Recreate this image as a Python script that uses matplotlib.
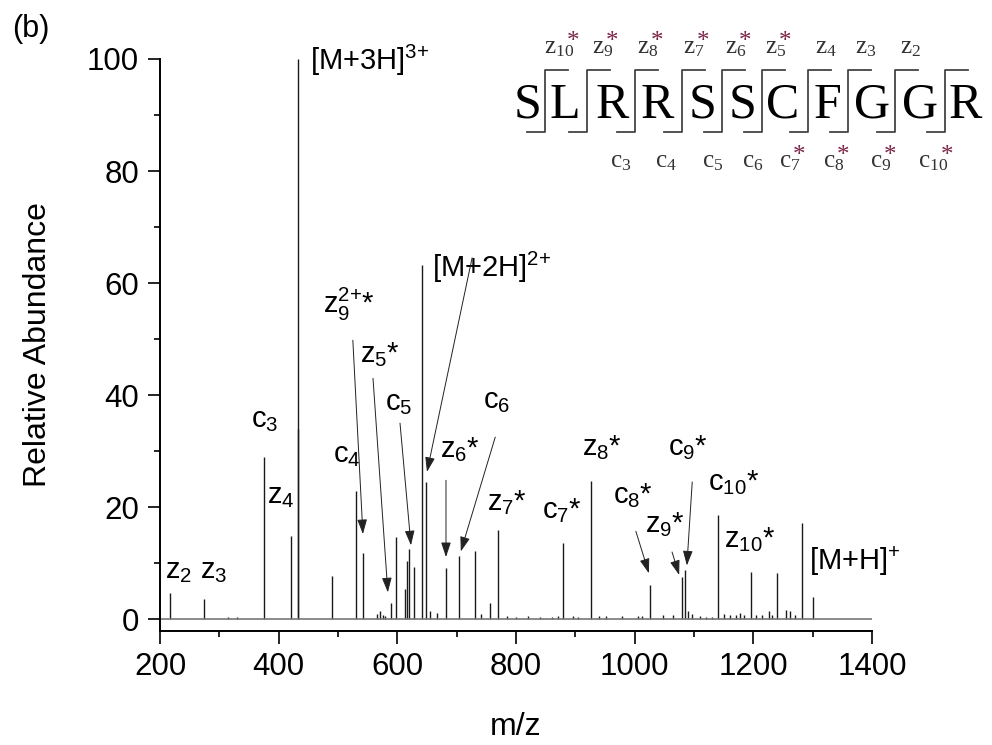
import matplotlib
matplotlib.use('Agg')
import matplotlib.pyplot as plt
from matplotlib.lines import Line2D

plt.rcParams['font.family'] = ['Liberation Sans', 'DejaVu Sans']
plt.rcParams['mathtext.default'] = 'regular'

# peak list (m/z, relative abundance)
peak_mz = [217, 274, 315, 330, 375, 421, 432.1, 432.4, 490, 530, 542,
           565, 570, 575, 580, 589, 598, 613, 616, 619, 628, 641.6, 648,
           655, 667, 682, 704, 731, 741, 756, 770, 785, 800, 820, 840, 860,
           870, 879, 896, 905, 926, 940, 952, 978, 1005, 1012, 1026, 1048,
           1064, 1080, 1085, 1090, 1097, 1110, 1120, 1130, 1141, 1150, 1160,
           1170, 1178, 1185, 1196, 1205, 1215, 1226, 1232, 1240, 1255, 1262,
           1270, 1282, 1300]
peak_int = [4.6, 3.6, 0.4, 0.4, 28.9, 14.8, 100, 34, 7.8, 22.9, 11.9,
            1.0, 1.5, 0.8, 0.6, 2.9, 14.7, 5.4, 10.4, 12.5, 9.3, 63.2, 24.5,
            1.5, 1.2, 9.1, 11.2, 12.1, 1.0, 2.9, 15.9, 0.5, 0.4, 0.5, 0.4, 0.4,
            0.5, 13.6, 0.5, 0.4, 24.6, 0.5, 0.5, 0.6, 0.5, 0.6, 6.2, 0.8,
            0.8, 7.5, 8.8, 1.5, 1.0, 0.5, 0.4, 0.4, 18.6, 1.0, 0.8,
            0.7, 1.2, 0.8, 8.4, 0.8, 0.8, 1.5, 0.8, 8.2, 1.6, 1.5,
            0.8, 17.1, 3.9]

# peak labels: (text, x, y) and arrows (start, tip)
labels = [
    ('$z_2$', 208, 7.3), ('$z_3$', 267, 7.3), ('$c_3$', 353, 34.3),
    ('$z_4$', 380, 20.7), ('[M+3H]$^{3{+}}$', 453, 98.0),
    ('$z_9^{2{+}}$*', 475, 54.6), ('$z_5$*', 537, 45.9), ('$c_4$', 492, 28.0),
    ('$c_5$', 579, 37.3), ('[M+2H]$^{2{+}}$', 658, 61.1), ('$z_6$*', 672, 28.9),
    ('$c_6$', 744, 37.7), ('$z_7$*', 751, 19.5), ('$c_7$*', 844, 18.0),
    ('$z_8$*', 911, 29.3), ('$c_8$*', 963, 20.7), ('$z_9$*', 1017, 15.5),
    ('$c_9$*', 1056, 29.3), ('$c_{10}$*', 1124, 23.0), ('$z_{10}$*', 1151, 12.9),
    ('[M+H]$^{+}$', 1294, 8.75),
]
arrows = [
    ((525, 49.8), (542, 15.2)), ((559, 43.0), (584, 4.8)),
    ((604.5, 35.0), (623, 13.2)), ((726, 64.5), (650, 26.3)),
    ((682, 24.8), (682, 11.1)), ((765, 32.5), (707, 12.1)),
    ((1002, 15.7), (1024, 8.2)), ((1063, 12.0), (1075, 7.9)),
    ((1097, 24.5), (1088, 9.6)),
]

sequence = 'SLRRSSCFGGR'
z_ions = ['10', '9', '8', '7', '6', '5', '4', '3', '2', None]
z_star = [True, True, True, True, True, True, False, False, False, False]
c_ions = [None, None, '3', '4', '5', '6', '7', '8', '9', '10']
c_star = [False, False, False, False, False, False, True, True, True, True]

W, H = 992, 745
fig = plt.figure(figsize=(W / 100, H / 100), dpi=100)
ax = fig.add_axes([160 / W, 1 - 631 / H, 712 / W, 572 / H])

ax.vlines(peak_mz, 0, peak_int, color='#1a1a1a', lw=1.0)
ax.plot([200, 1400], [0, 0], color='#777777', lw=1.2)

ax.set_xlim(200, 1400)
ax.set_ylim(-2.1, 100)
ax.spines['top'].set_visible(False)
ax.spines['right'].set_visible(False)
ax.spines['left'].set_linewidth(1.4)
ax.spines['bottom'].set_linewidth(1.4)
ax.set_xticks(range(200, 1401, 200))
ax.set_xticks(range(300, 1400, 200), minor=True)
ax.set_yticks(range(0, 101, 20))
ax.set_yticks(range(10, 100, 20), minor=True)
ax.tick_params(which='major', direction='out', length=9, width=1.2, labelsize=22.5, pad=6)
ax.tick_params(which='minor', direction='out', length=4.5, width=1.2)
ax.set_xlabel('m/z', fontsize=23)
ax.set_ylabel('Relative Abundance', fontsize=23)
ax.xaxis.set_label_coords(0.5, -0.142)
ax.yaxis.set_label_coords(-0.15, 0.5)

for txt, x, y in labels:
    ax.text(x, y, txt, fontsize=21, ha='left', va='baseline')
for start, tip in arrows:
    ax.annotate('', xy=tip, xytext=start,
                arrowprops=dict(arrowstyle='-|>,head_length=0.45,head_width=0.15',
                                color='#222222', lw=0.7, mutation_scale=20,
                                shrinkA=0, shrinkB=0))

fig.text(12 / W, 1 - 37 / H, '(b)', fontsize=22, va='baseline')

# sequence diagram with fragment brackets
letter_x = [528, 565, 612, 657, 703, 743, 783, 827, 872, 920, 965]
bracket_x = [545, 587, 635, 682, 722, 762, 808, 848, 895, 945]
top_x = [544, 592, 637, 683, 725, 765, 815, 855, 900]
bot_x = [None, None, 610, 655, 702, 742, 779, 823, 870, 918]
star_col = '#7b2346'
serif = ['Liberation Serif', 'DejaVu Serif']

for ch, x in zip(sequence, letter_x):
    fig.text(x / W, 1 - 118 / H, ch, fontsize=36, family=serif,
             ha='center', va='baseline')

for bx in bracket_x:
    xs = [(bx - 18) / W, bx / W, bx / W, (bx + 23) / W]
    ys = [1 - 132 / H, 1 - 132 / H, 1 - 70 / H, 1 - 70 / H]
    fig.add_artist(Line2D(xs, ys, color='#444444', lw=1.3))


def ion_label(kind, num, star, x, y):
    t = fig.text(x / W, 1 - y / H, '$%s_{%s}$' % (kind, num), fontsize=18,
                 family=serif, color='#333333', ha='left', va='baseline')
    if star:
        ax.annotate('*', xy=(1, 1), xycoords=t, xytext=(-1, -12),
                    textcoords='offset points', fontsize=18, family=serif,
                    color=star_col, ha='center', va='bottom',
                    annotation_clip=False)


for i, x in enumerate(top_x):
    ion_label('z', z_ions[i], z_star[i], x, 53)
for i, x in enumerate(bot_x):
    if x is not None:
        ion_label('c', c_ions[i], c_star[i], x, 167)

fig.savefig('out.png', dpi=100)
